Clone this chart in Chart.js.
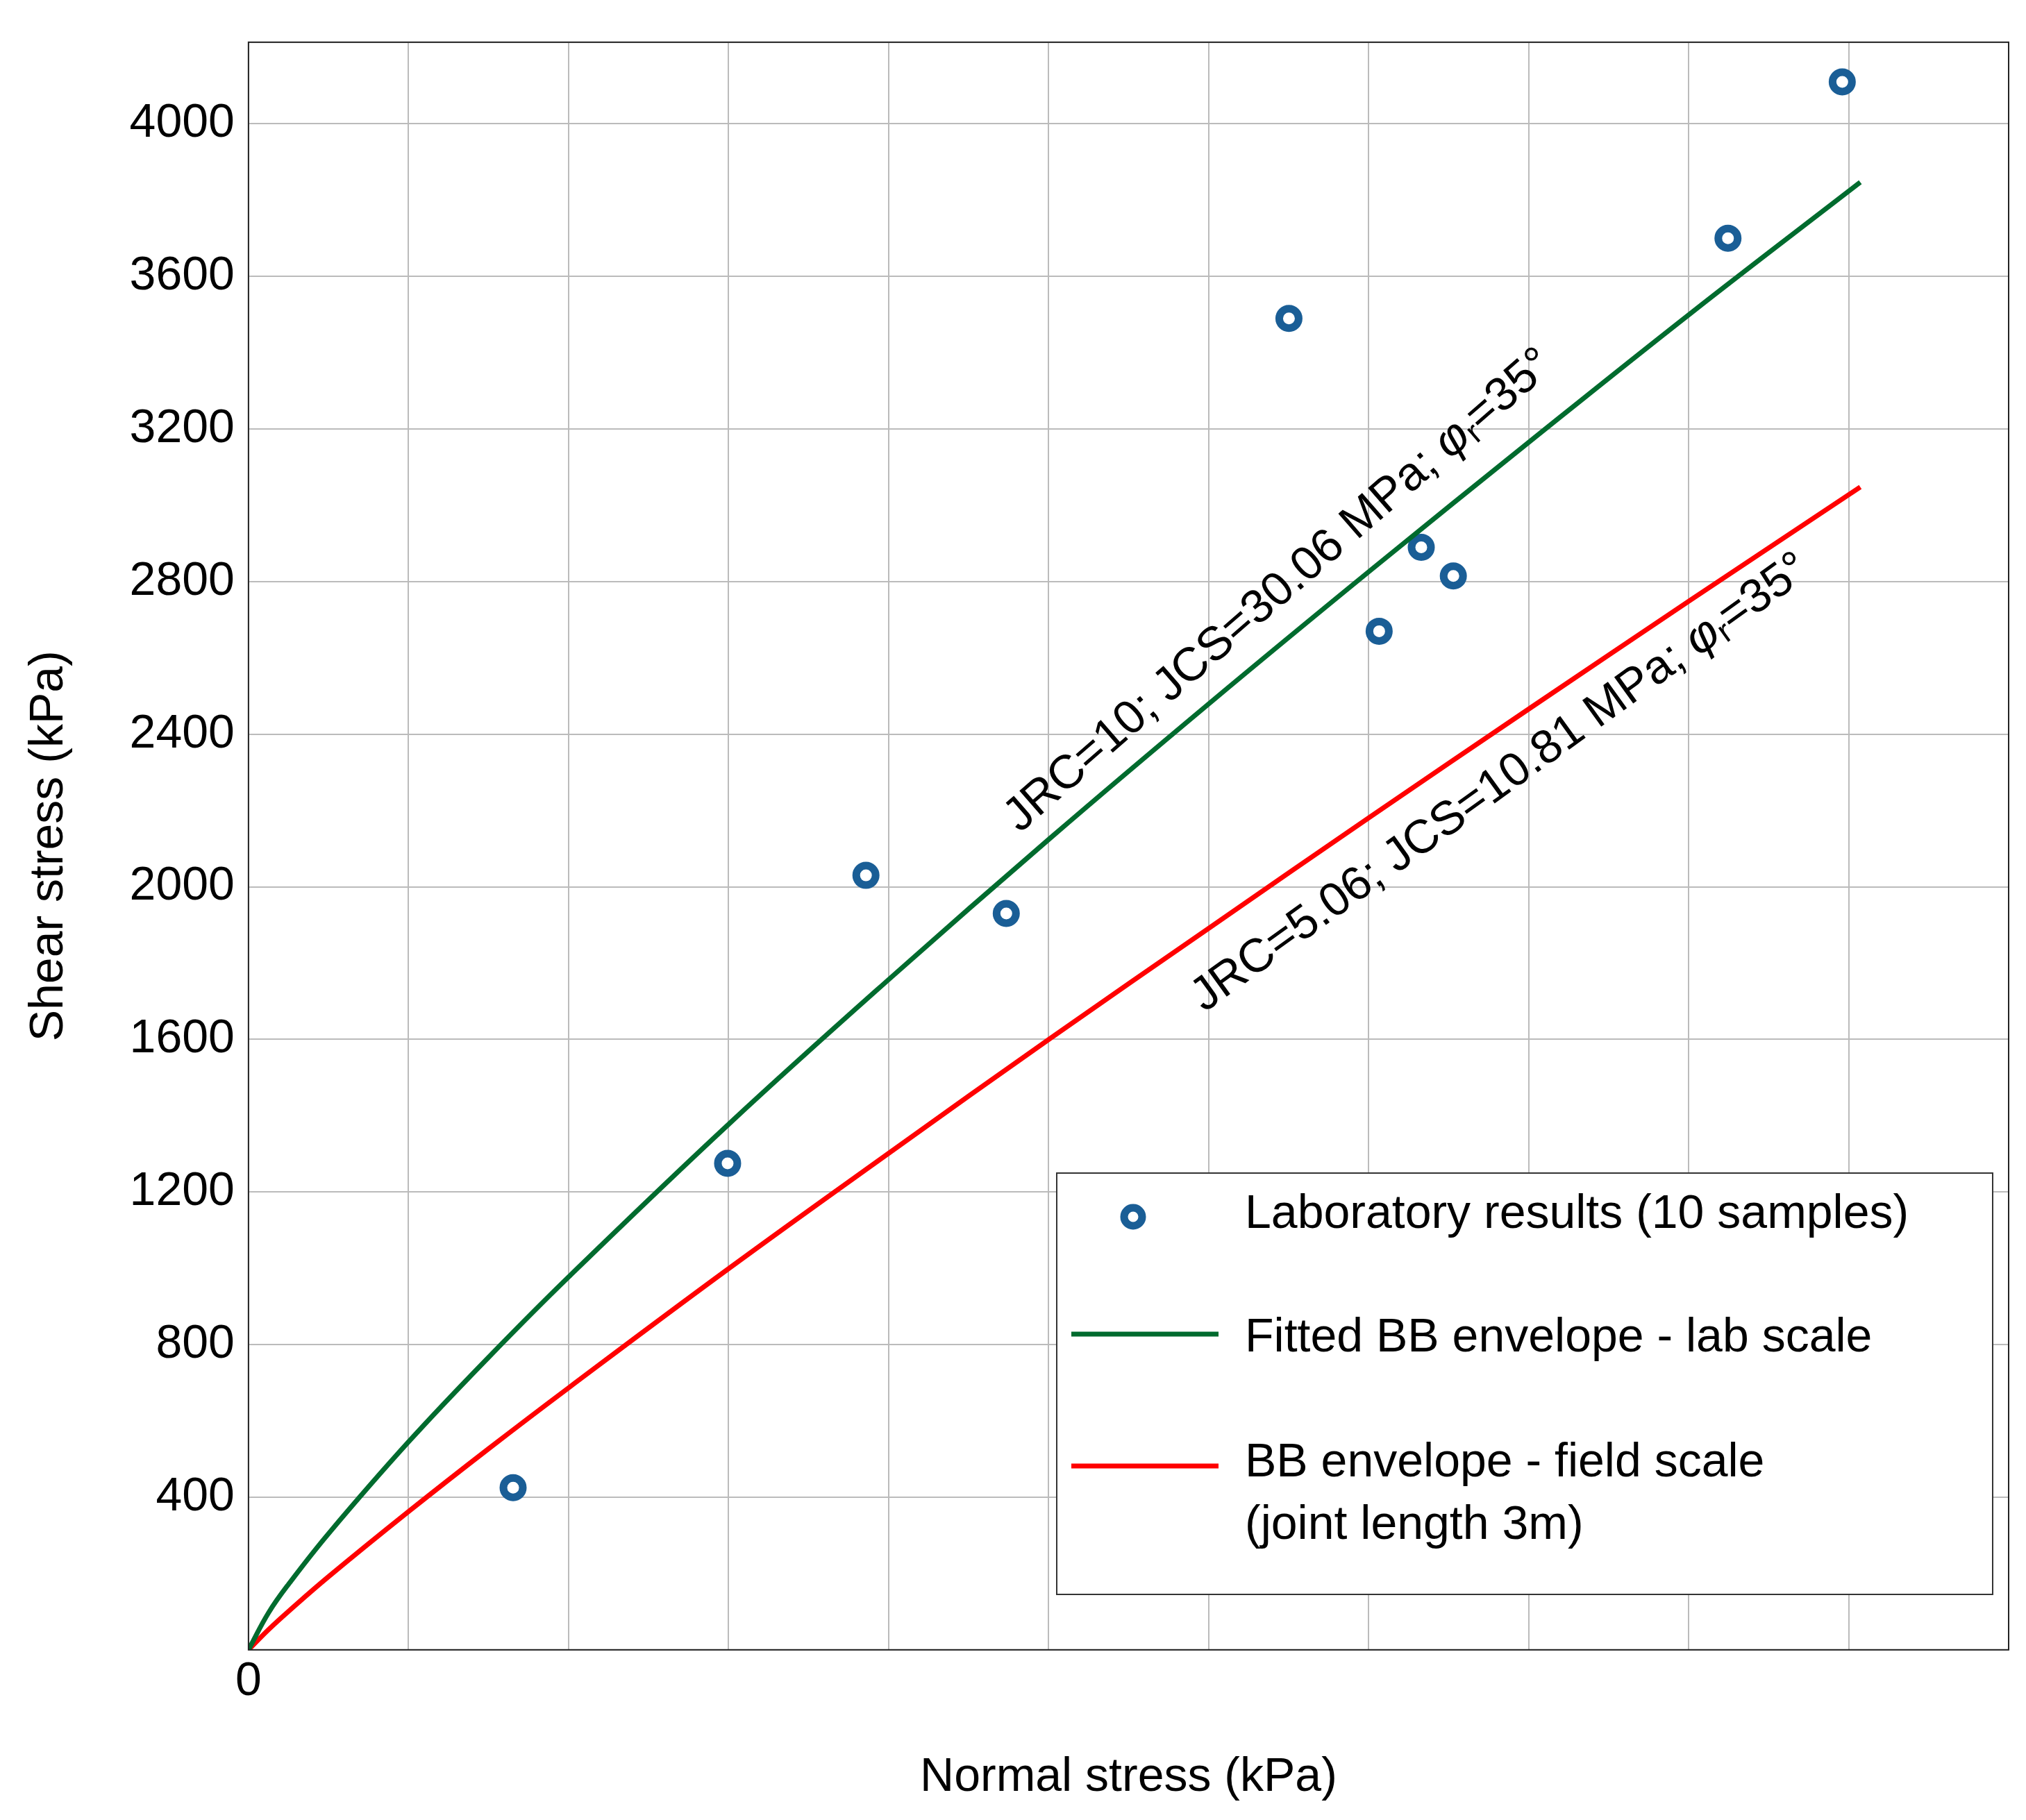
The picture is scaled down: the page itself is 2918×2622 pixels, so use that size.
<!DOCTYPE html>
<html><head><meta charset="utf-8">
<script src="https://cdn.jsdelivr.net/npm/chart.js@4"></script>
<style>html,body{margin:0;background:#fff}#w{width:2918px;height:2622px}</style>
</head><body><div id="w"><canvas id="c"></canvas></div>
<script>
const labX=[660,1195,1540,1890,2595,2820,2925,3005,3690,3975];
const labY=[425,1275,2030,1930,3490,2670,2890,2815,3700,4110];
const curveX=[0,50,100,200,400,600,800,1200,1600,2000,2400,2800,3200,3600,4020];
const labCurveY=[0,97,172,305,546,768,979,1380,1760,2128,2484,2831,3171,3506,3847];
const fieldCurveY=[0,53,101,192,363,528,688,1001,1304,1603,1895,2185,2471,2754,3048];
const legendLabels=["Laboratory results (10 samples)","Fitted BB envelope - lab scale","BB envelope - field scale","(joint length 3m)"];
const curveLabels=[{pre:"JRC=10; JCS=30.06 MPa; ",x:2571,y:2776,ang:-41},{pre:"JRC=5.06; JCS=10.81 MPa; ",x:3123,y:2272,ang:-35.8}];
const F="'Liberation Sans', Arial, sans-serif";
const BLUE="#1a5e96",GREEN="#006b2e",RED="#ff0000";
const pts=(xs,ys)=>xs.map((x,i)=>({x,y:ys[i]}));
const deco={id:'deco',afterDraw(ch){
 const c=ch.ctx,a=ch.chartArea,xs=ch.scales.x,ys=ch.scales.y;
 c.save();c.strokeStyle='#222';c.lineWidth=2;c.strokeRect(a.left,a.top,a.right-a.left,a.bottom-a.top);
 c.fillStyle='#000';c.textBaseline='middle';
 for(const L of curveLabels){
  c.save();c.translate(xs.getPixelForValue(L.x),ys.getPixelForValue(L.y));c.rotate(L.ang*Math.PI/180);
  const f1='68px '+F,f2='italic 68px '+F,f3='46px '+F;
  c.font=f1;const w1=c.measureText(L.pre).width;c.font=f2;const w2=c.measureText('φ').width;
  c.font=f3;const w3=c.measureText('r').width;c.font=f1;const w4=c.measureText('=35°').width;
  let x=-(w1+w2+w3+w4)/2;
  c.font=f1;c.fillText(L.pre,x,0);x+=w1;c.font=f2;c.fillText('φ',x,0);x+=w2;
  c.font=f3;c.fillText('r',x,14);x+=w3;c.font=f1;c.fillText('=35°',x,0);
  c.restore();}
 const bx=1522,by=1690,bw=1348,bh=607;
 c.fillStyle='#fff';c.fillRect(bx,by,bw,bh);c.strokeStyle='#333';c.lineWidth=2;c.strokeRect(bx,by,bw,bh);
 c.font='68px '+F;c.fillStyle='#000';c.textBaseline='middle';
 c.beginPath();c.arc(1632,1753,13,0,Math.PI*2);c.lineWidth=11;c.strokeStyle=BLUE;c.stroke();
 c.fillText(legendLabels[0],1793,1750);
 c.lineWidth=7;c.strokeStyle=GREEN;c.beginPath();c.moveTo(1543,1922);c.lineTo(1755,1922);c.stroke();
 c.fillText(legendLabels[1],1793,1928);
 c.strokeStyle=RED;c.beginPath();c.moveTo(1543,2112);c.lineTo(1755,2112);c.stroke();
 c.fillText(legendLabels[2],1793,2108);c.fillText(legendLabels[3],1793,2198);
 c.restore();}};
new Chart(document.getElementById('c'),{type:'scatter',
 data:{datasets:[
  {data:pts(curveX,labCurveY),showLine:true,borderColor:GREEN,borderWidth:7,pointRadius:0,tension:0.4},
  {data:pts(curveX,fieldCurveY),showLine:true,borderColor:RED,borderWidth:7,pointRadius:0,tension:0.4},
  {data:pts(labX,labY),pointRadius:14,pointBorderWidth:11,pointBorderColor:BLUE,pointBackgroundColor:'#fff'}]},
 options:{responsive:true,maintainAspectRatio:false,animation:false,
  layout:{padding:{top:30,right:22,left:30,bottom:0}},
  plugins:{legend:{display:false},tooltip:{enabled:false}},
  scales:{
   x:{min:0,max:4390,ticks:{stepSize:400,autoSkip:false,maxRotation:0,color:'#000',font:{size:68,family:F},padding:6,
      callback:v=>(Math.round(v)%400===0&&v<=4000)?Math.round(v):''},grid:{color:'#bbb',lineWidth:2,drawTicks:false},
      border:{display:false},
      title:{display:true,text:'Normal stress (kPa)',color:'#000',font:{size:68,family:F},padding:{top:50,bottom:20}}},
   y:{min:0,max:4214,ticks:{stepSize:400,autoSkip:false,color:'#000',font:{size:68,family:F},padding:20,
      callback:v=>(v>0&&Math.round(v)%400===0)?Math.round(v):''},grid:{color:'#bbb',lineWidth:2,drawTicks:false},
      border:{display:false},
      title:{display:true,text:'Shear stress (kPa)',color:'#000',font:{size:68,family:F},padding:{bottom:55,top:0}}}}},
 plugins:[deco]});
</script></body></html>
